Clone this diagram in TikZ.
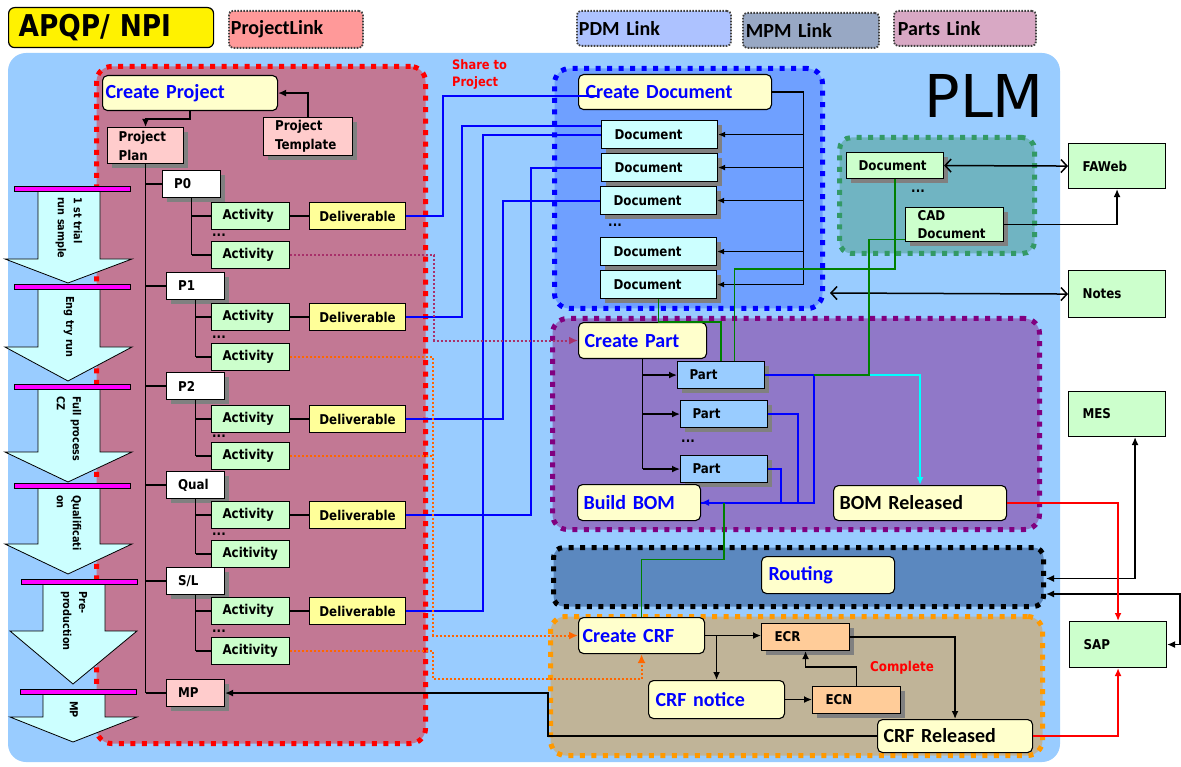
\documentclass[tikz,border=0pt]{standalone}
\usepackage{fontspec}
\setmainfont{DejaVu Sans}[FakeStretch=0.88]
\newfontfamily\calfont{Carlito}
\newfontfamily\plmfont{DejaVu Sans}
\usetikzlibrary{arrows.meta,shadows}
\definecolor{plmbg}{HTML}{99CCFF}
\definecolor{prjfill}{HTML}{C27894}
\definecolor{docfill}{HTML}{6FA0FF}
\definecolor{cadfill}{HTML}{70B4C2}
\definecolor{cadline}{HTML}{339966}
\definecolor{prtfill}{HTML}{9078C8}
\definecolor{prtline}{HTML}{800080}
\definecolor{rtfill}{HTML}{5B88BF}
\definecolor{crffill}{HTML}{C0B498}
\definecolor{crfline}{HTML}{FF9900}
\definecolor{ylw}{HTML}{FFFFCC}
\definecolor{pnk}{HTML}{FFCCCC}
\definecolor{dlvc}{HTML}{FFFF99}
\definecolor{grn}{HTML}{CCFFCC}
\definecolor{cyn}{HTML}{CCFFFF}
\definecolor{lblue}{HTML}{99CCFF}
\definecolor{orng}{HTML}{FFCC99}
\definecolor{mgnt}{HTML}{FF00FF}
\definecolor{lgprj}{HTML}{FF9999}
\definecolor{lgpdm}{HTML}{ADC2FF}
\definecolor{lgmpm}{HTML}{98A8C4}
\definecolor{lgprt}{HTML}{D8A8C4}
\definecolor{dkgreen}{HTML}{008000}
\definecolor{dotmaroon}{HTML}{A8306A}
\definecolor{dotorange}{HTML}{FF6600}
\definecolor{txtblue}{HTML}{0000FF}
\definecolor{brcyan}{HTML}{00FFFF}
\definecolor{brred}{HTML}{FF0000}
\tikzstyle{bx}=[draw=black, line width=1.1pt, anchor=north west, inner sep=0pt, align=left, font=\bfseries\fontsize{13.5}{19}\selectfont]
\tikzstyle{shd}=[drop shadow={shadow xshift=4pt, shadow yshift=-4pt, fill=black!50, opacity=1}]
\tikzstyle{ybx}=[bx, fill=ylw, rounded corners=5pt, text=txtblue, font=\calfont\bfseries\fontsize{20}{24}\selectfont]
\tikzstyle{phs}=[bx, shd, fill=white, minimum width=58pt, minimum height=27pt, text width=35pt]
\tikzstyle{act}=[bx, fill=grn, minimum width=78pt, minimum height=27pt, text width=56pt]
\tikzstyle{dlv}=[bx, fill=dlvc, minimum width=96pt, minimum height=27pt, text width=84pt, align=center]
\tikzstyle{pnkb}=[bx, shd, fill=pnk]
\tikzstyle{docb}=[bx, shd, fill=cyn, minimum width=116pt, minimum height=28pt, text width=90pt]
\tikzstyle{cadb}=[bx, shd, fill=grn]
\tikzstyle{prtb}=[bx, shd, fill=lblue, minimum width=87pt, minimum height=27pt, text width=63pt]
\tikzstyle{extb}=[bx, fill=grn, minimum width=97pt, minimum height=46pt, text width=69pt]
\tikzstyle{chgb}=[bx, shd, fill=orng, minimum width=88pt, minimum height=27pt, text width=62pt]
\tikzstyle{reg}=[anchor=north west, inner sep=0pt, rounded corners=15pt, line width=5pt, dash pattern=on 5pt off 6.5pt]
\tikzstyle{lgd}=[anchor=north west, inner sep=0pt, rounded corners=4pt, draw=black!75, line width=1.8pt, dash pattern=on 1.6pt off 1.4pt, align=left, font=\calfont\bfseries\fontsize{20}{24}\selectfont]
\tikzstyle{ln}=[black, line width=1.5pt]
\tikzstyle{arr}=[ln, -{Latex[length=8pt,width=7pt]}]
\tikzstyle{dbl}=[ln, {Latex[length=8pt,width=7pt]}-{Latex[length=8pt,width=7pt]}]
\tikzstyle{chv}=[ln, {Straight Barb[length=6pt,width=13pt]}-{Straight Barb[length=6pt,width=13pt]}]
\tikzstyle{bus}=[black, line width=1.2pt]
\tikzstyle{bl}=[txtblue, line width=2pt]
\tikzstyle{gl}=[dkgreen, line width=1.6pt]
\tikzstyle{rl}=[brred, line width=1.8pt, -{Latex[length=8pt,width=7pt]}]
\tikzstyle{dtl}=[line width=2pt, dash pattern=on 2pt off 2pt]
\tikzstyle{stg}=[fill=cyn, draw=black, line width=0.8pt]
\tikzstyle{stglbl}=[rotate=-90, anchor=west, align=left, inner sep=0pt, font=\bfseries\fontsize{11}{16}\selectfont]
\tikzstyle{bar}=[fill=mgnt, draw=black, line width=0.6pt]
\tikzstyle{dts}=[inner sep=0pt, font=\bfseries\fontsize{13.5}{15}\selectfont]
\begin{document}
\begin{tikzpicture}[x=1pt,y=-1pt]
\useasboundingbox (0,0) rectangle (1181,767);
% legend
\node[anchor=north west, inner sep=0pt, fill=yellow, draw=black, line width=1.2pt, rounded corners=6pt, minimum width=205pt, minimum height=40pt, text width=185pt, align=left, font=\bfseries\fontsize{30}{32}\selectfont] (apqp) at (8,7) {APQP/ NPI};
\node[lgd, fill=lgprj, minimum width=134pt, minimum height=37pt, text width=130pt] (lgprj) at (228,10) {ProjectLink};
\node[lgd, fill=lgpdm, minimum width=154pt, minimum height=35pt, text width=150pt] (lgpdm) at (576,10) {PDM Link};
\node[lgd, fill=lgmpm, minimum width=136pt, minimum height=35pt, text width=130pt] (lgmpm) at (742,12) {MPM Link};
\node[lgd, fill=lgprt, minimum width=142pt, minimum height=35pt, text width=134pt] (lgprt) at (893,10) {Parts Link};
% PLM background and regions
\fill[plmbg, rounded corners=18pt] (8,53) rectangle (1060,762);
\node[anchor=base east, inner sep=0pt, font=\plmfont\fontsize{59}{59}\selectfont] (plm) at (1044,118) {PLM};
\node[reg, fill=prjfill, draw=brred, minimum width=329pt, minimum height=677pt] (rprj) at (94,64) {};
\node[reg, fill=docfill, draw=txtblue, minimum width=268pt, minimum height=240pt] (rdoc) at (552,66) {};
\node[reg, fill=cadfill, draw=cadline, minimum width=195pt, minimum height=116pt, rounded corners=12pt] (rcad) at (837,135) {};
\node[reg, fill=prtfill, draw=prtline, minimum width=487pt, minimum height=211pt] (rprt) at (550,316) {};
\node[reg, fill=rtfill, draw=black, minimum width=490pt, minimum height=59pt, rounded corners=10pt] (rrt) at (551,545) {};
\node[reg, fill=crffill, draw=crfline, minimum width=492pt, minimum height=139pt] (rcrf) at (548,614) {};
% stage arrows
\foreach \y/\h/\t/\d/\lb in {190/259/283/0/{1 st trial\\run sample}, 289/347/381/0/{Eng try run}, 389/452/482/0/{Full process\\CZ}, 488/544/574/0/{Qualificati\\on}, 584/631/684/5/{Pre-\\production}, 694/717/742/5/{MP}} {
 \draw[stg] (38+\d,\y) -- (100+\d,\y) -- (100+\d,\h) -- (132+\d,\h) -- (68+\d,\t) -- (5+\d,\h) -- (38+\d,\h) -- cycle;
 \node[stglbl] at (69+\d,\y+7) {\lb};
}
\foreach \y/\xa in {186/14, 284/14, 384/14, 483/14, 579/21, 689/20}
 \draw[bar] (\xa,\y) rectangle ++(116,5);
% project
\node[ybx, minimum width=175pt, minimum height=35pt, text width=169pt] (cprj) at (102,75) {Create Project};
\node[pnkb, minimum width=89pt, minimum height=38pt, text width=66pt] (tmpl) at (263,117) {Project\\Template};
\node[pnkb, minimum width=76pt, minimum height=36pt, text width=54pt] (plan) at (107,127) {Project\\Plan};
\node[pnkb, minimum width=58pt, minimum height=27pt, text width=35pt] (mp) at (166,679) {MP};
\draw[arr] (tmpl.north) |- (cprj.east);
\draw[arr] (cprj.south) -- ++(0,8) -| (plan.north);
\foreach \n/\lb/\x/\y/\ya/\yb/\tb in {0/P0/162/170/202/241/Activity, 1/P1/166/272/303/343/Activity, 2/P2/166/372/405/442/Activity, q/Qual/166/471/501/540/Acitivity, s/{S/L}/166/567/597/637/Acitivity} {
 \node[phs] (p\n) at (\x,\y) {\lb};
 \node[act] (ac\n) at (211,\ya) {Activity};
 \node[act] (ad\n) at (211,\yb) {\tb};
 \node[dlv] (dl\n) at (309,\ya) {Deliverable};
 \node[dts] (dt\n) at (219,\yb-6) {...};
 \draw[ln] (p\n.south) -- (p\n.south |- ad\n.west);
 \draw[ln] (p\n.south |- ac\n.west) -- (ac\n.west);
 \draw[ln] (p\n.south |- ad\n.west) -- (ad\n.west);
 \draw[ln] (ac\n.east) -- (dl\n.west);
}
\draw[ln] (plan.south) -- (plan.south |- mp.west);
\foreach \n in {p0,p1,p2,pq,ps,mp}
 \draw[ln] (plan.south |- \n.west) -- (\n.west);
\node[anchor=north west, inner sep=0pt, text=brred, align=left, font=\bfseries\fontsize{13}{17}\selectfont] (shr) at (452,59) {Share to\\Project};
% documents
\node[ybx, minimum width=193pt, minimum height=35pt, text width=179pt] (cdoc) at (578,74) {Create Document};
\foreach \n/\x/\y in {1/601/120, 2/601/153, 3/600/186, 4/600/237, 5/600/270}
 \node[docb] (doc\n) at (\x,\y) {Document};
\node[dts] (dtd) at (615,225) {...};
\draw[bus] (cdoc.east) -- ++(31,0) coordinate (dbus) -- (dbus |- doc5.east);
\foreach \n in {1,...,5}
 \draw[bus, -{Latex[length=7pt,width=6pt]}] (dbus |- doc\n.east) -- (doc\n.east);
% CAD and outside systems
\node[cadb, minimum width=97pt, minimum height=26pt, text width=73pt] (cadd) at (846,152) {Document};
\node[dts] (dtc) at (918,191) {...};
\node[cadb, minimum width=98pt, minimum height=34pt, text width=74pt, font=\bfseries\fontsize{13.5}{18}\selectfont] (cadx) at (905,207) {CAD\\Document};
\node[extb, minimum height=45pt] (faweb) at (1068,143) {FAWeb};
\node[extb, minimum height=47pt] (notes) at (1068,270) {Notes};
\node[extb, minimum height=45pt] (mes) at (1068,391) {MES};
\node[extb] (sap) at (1069,621) {SAP};
\coordinate (ntend) at (830,293);
\draw[chv] (cadd.east) -- (faweb.west);
\draw[arr] (cadx.east) -| (faweb.south);
\draw[chv] (ntend) -- (notes.west);
% parts
\node[ybx, minimum width=128pt, minimum height=36pt, text width=116pt] (cprt) at (578,322) {Create Part};
\node[prtb] (prt1) at (677,361) {Part};
\node[prtb] (prt2) at (680,400) {Part};
\node[prtb] (prt3) at (680,455) {Part};
\node[dts] (dtp) at (688,441) {...};
\node[ybx, minimum width=123pt, minimum height=36pt, text width=111pt] (bbom) at (577,484) {Build BOM};
\node[ybx, minimum width=173pt, minimum height=35pt, text width=161pt, text=black] (bomr) at (833,485) {BOM Released};
\draw[ln] (cprt.south) -- (cprt.south |- prt3.west);
\foreach \n in {1,2,3}
 \draw[arr] (cprt.south |- prt\n.west) -- (prt\n.west);
\draw[bl, -{Latex[length=8pt,width=7pt]}] (prt1.east) -- ++(49,0) coordinate (pj) |- (bbom.east);
\draw[bl] (prt2.east) -- ++(30,0) |- (bbom.east);
\draw[bl] (prt3.east) -- ++(13,0) |- (bbom.east);
% routing and change
\node[ybx, minimum width=133pt, minimum height=37pt, text width=119pt] (rout) at (761,556) {Routing};
\node[ybx, minimum width=126pt, minimum height=36pt, text width=118pt] (ccrf) at (578,617) {Create CRF};
\node[chgb] (ecr) at (761,623) {ECR};
\node[chgb] (ecn) at (812,686) {ECN};
\node[ybx, minimum width=136pt, minimum height=38pt, text width=122pt] (crfn) at (648,680) {CRF notice};
\node[ybx, minimum width=155pt, minimum height=33pt, text width=143pt, text=black] (crfr) at (877,719) {CRF Released};
\node[inner sep=0pt, text=brred, font=\bfseries\fontsize{13.5}{15}\selectfont] (cmpl) at (902,668) {Complete};
\draw[arr] (ccrf.east) -- (ccrf.east -| ecr.west);
\draw[arr] (ccrf.east -| crfn.north) -- (crfn.north);
\draw[arr] (crfn.east) -- (crfn.east -| ecn.west);
\draw[arr] (ecn.north) -- ++(0,-19) -| (ecr.south);
\draw[arr] (ecr.east) -| (crfr.north);
\draw[arr] (crfr.west) -- ++(-329,0) |- (mp.east);
\draw[dbl] ([xshift=18pt]mes.south) |- ([yshift=-1.5pt]rrt.east);
\draw[dbl] ([yshift=-17pt]rrt.east) -- ++(134,0) |- (sap.east);
\draw[rl] (bomr.east) -| (sap.north);
\draw[rl] (crfr.east) -| (sap.south);
% deliverables to documents
\draw[bl] (dl0.east) -- ++(37,0) |- ([xshift=19pt,yshift=-3.5pt]cdoc.west);
\draw[bl] (dl1.east) -- ++(56,0) |- ([yshift=9pt]doc1.west);
\draw[bl] (dl2.east) -- ++(97,0) |- (doc3.west);
\draw[bl] (dlq.east) -- ++(125,0) |- (doc2.west);
\draw[bl] (dls.east) -- ++(77,0) |- (doc1.west);
% activities to part / CRF
\draw[dtl, dotmaroon, -{Latex[length=9pt,width=8pt]}] (ad0.east) -- ++(144,0) |- (cprt.west);
\draw[dtl, dotorange, -{Latex[length=9pt,width=8pt]}] (ad1.east) -- ++(143,0) |- (ccrf.west);
\draw[dtl, dotorange] (ad2.east) -- ++(143,0);
\draw[dtl, dotorange, -{Latex[length=9pt,width=8pt]}] (ads.east) -- ++(143,0) -- ++(0,28) -| (ccrf.south);
% links between documents, parts and CRF
\draw[gl] (doc5.south) -- ++(0,23) -| (prt1.north);
\draw[gl] (cadd.south) -- ++(0,90) -| ([xshift=13.5pt]prt1.north);
\draw[gl] ([yshift=-15pt]cadx.west) -- ++(-36,0) |- (pj);
\draw[brcyan, line width=1.6pt, -{Latex[length=8pt,width=7pt]}] ([xshift=56pt]pj) -| (bomr.north);
\draw[gl] ([xshift=23pt]bbom.east) -- ++(0,57) -| (ccrf.north);
\end{tikzpicture}
\end{document}
